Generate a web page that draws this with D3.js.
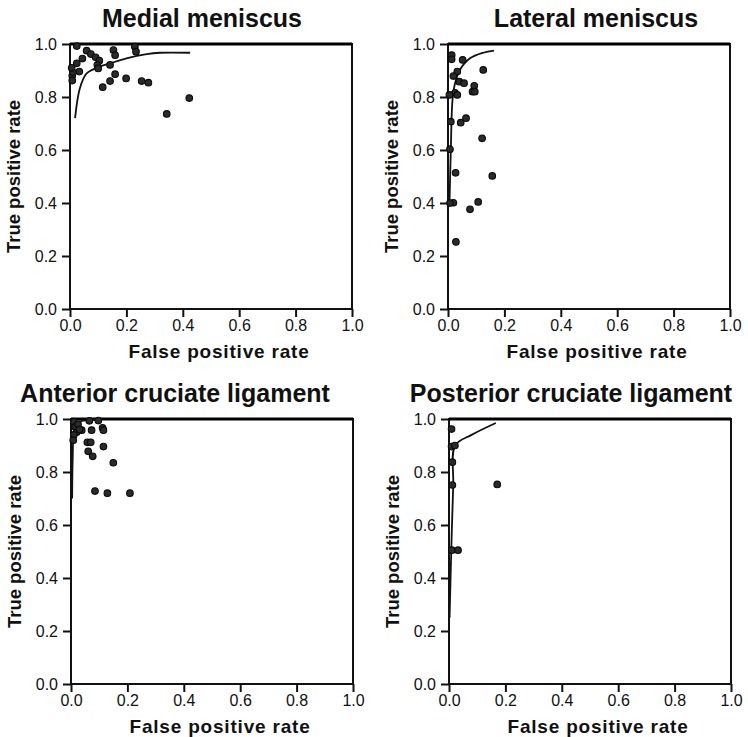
<!DOCTYPE html>
<html>
<head>
<meta charset="utf-8">
<script src="https://cdn.jsdelivr.net/npm/d3@7"></script>
<style>
  html, body { margin: 0; padding: 0; background: #fff; }
  svg { display: block; }
  text { font-family: "Liberation Sans", Arial, sans-serif; fill: #111; }
</style>
</head>
<body>
<svg id="chart" width="748" height="737"></svg>
<script>
// ---- data -------------------------------------------------------------
const panelTitles = ["Medial meniscus", "Lateral meniscus",
                     "Anterior cruciate ligament", "Posterior cruciate ligament"];
const xTickValues = [0, 0.2, 0.4, 0.6, 0.8, 1.0];
const yTickValues = [0, 0.2, 0.4, 0.6, 0.8, 1.0];
const xAxisLabel = "False positive rate";
const yAxisLabel = "True positive rate";

// study estimates: [false positive rate, true positive rate]
const medialStudies = [
  [0.024, 0.992], [0.059, 0.975], [0.074, 0.962], [0.091, 0.950], [0.104, 0.937],
  [0.097, 0.921], [0.100, 0.908], [0.044, 0.945], [0.024, 0.927], [0.033, 0.896],
  [0.008, 0.880], [0.008, 0.862], [0.010, 0.893], [0.006, 0.910], [0.154, 0.977],
  [0.160, 0.958], [0.230, 0.990], [0.234, 0.971], [0.142, 0.921], [0.160, 0.886],
  [0.142, 0.860], [0.116, 0.837], [0.199, 0.870], [0.254, 0.860], [0.278, 0.854],
  [0.343, 0.736], [0.423, 0.796]
];
const lateralStudies = [
  [0.013, 0.958], [0.013, 0.942], [0.052, 0.940], [0.125, 0.902], [0.033, 0.896],
  [0.019, 0.879], [0.040, 0.858], [0.057, 0.852], [0.093, 0.842], [0.087, 0.820],
  [0.095, 0.820], [0.025, 0.816], [0.033, 0.808], [0.005, 0.808], [0.064, 0.720],
  [0.045, 0.703], [0.010, 0.707], [0.121, 0.644], [0.007, 0.603], [0.027, 0.514],
  [0.157, 0.502], [0.019, 0.401], [0.007, 0.400], [0.107, 0.404], [0.078, 0.376],
  [0.028, 0.253]
];
const anteriorStudies = [
  [0.065, 0.993], [0.097, 0.994], [0.038, 0.958], [0.073, 0.958], [0.112, 0.967],
  [0.115, 0.958], [0.058, 0.912], [0.070, 0.912], [0.115, 0.896], [0.061, 0.878],
  [0.077, 0.859], [0.150, 0.835], [0.085, 0.728], [0.129, 0.720], [0.209, 0.720],
  [0.010, 0.990], [0.015, 0.970], [0.020, 0.950], [0.010, 0.940], [0.025, 0.980],
  [0.030, 0.960], [0.008, 0.920]
];
const posteriorStudies = [
  [0.009, 0.962], [0.009, 0.896], [0.021, 0.900], [0.012, 0.837], [0.012, 0.751],
  [0.171, 0.753], [0.010, 0.505], [0.032, 0.505]
];

// summary ROC curves: [false positive rate, true positive rate]
const medialCurve = [
  [0.018, 0.720], [0.035, 0.833], [0.059, 0.889], [0.104, 0.914], [0.142, 0.927],
  [0.200, 0.946], [0.272, 0.962], [0.319, 0.967], [0.426, 0.967]
];
const lateralCurve = [
  [0.005, 0.386], [0.010, 0.600], [0.016, 0.789], [0.025, 0.852], [0.042, 0.902],
  [0.078, 0.946], [0.125, 0.967], [0.163, 0.975]
];
const anteriorCurve = [
  [0.004, 0.700], [0.006, 0.850], [0.010, 0.950], [0.020, 0.985], [0.050, 0.995],
  [0.100, 0.998]
];
const posteriorCurve = [
  [0.002, 0.250], [0.008, 0.500], [0.015, 0.750], [0.022, 0.900], [0.080, 0.940],
  [0.166, 0.985]
];

const panelStudies = [medialStudies, lateralStudies, anteriorStudies, posteriorStudies];
const panelCurves = [medialCurve, lateralCurve, anteriorCurve, posteriorCurve];

// ---- layout -----------------------------------------------------------
const plotW = 282, plotH = 265;
const panelOrigins = [[70, 44], [448, 44], [71, 419], [449, 419]];
const titleCenters = [202, 596, 175, 571];

const svg = d3.select("#chart");

panelTitles.forEach((title, i) => {
  const [left, top] = panelOrigins[i];
  const x = d3.scaleLinear().domain([0, 1]).range([0, plotW]);
  const y = d3.scaleLinear().domain([0, 1]).range([plotH, 0]);
  const g = svg.append("g").attr("transform", `translate(${left},${top})`);

  // axes
  const xAxis = d3.axisBottom(x).tickValues(xTickValues)
    .tickFormat(d3.format(".1f")).tickSize(8).tickSizeOuter(0).tickPadding(3);
  const yAxis = d3.axisLeft(y).tickValues(yTickValues)
    .tickFormat(d3.format(".1f")).tickSize(8).tickSizeOuter(0).tickPadding(5);

  const gx = g.append("g").attr("transform", `translate(0,${plotH})`).call(xAxis);
  const gy = g.append("g").call(yAxis);
  [gx, gy].forEach(a => {
    a.select(".domain").remove();
    a.selectAll(".tick line").attr("stroke", "#111").attr("stroke-width", 2);
    a.selectAll(".tick text").attr("font-size", 16).attr("fill", "#222")
      .style("font-family", "'Liberation Sans', Arial, sans-serif");
  });

  // frame
  g.append("rect").attr("x", 0).attr("y", 0).attr("width", plotW).attr("height", plotH)
    .attr("fill", "none").attr("stroke", "#111").attr("stroke-width", 2);
  g.append("line").attr("x1", 0).attr("x2", plotW).attr("y1", y(1)).attr("y2", y(1))
    .attr("stroke", "#000").attr("stroke-width", 3);

  // summary curve
  const line = d3.line().x(d => x(d[0])).y(d => y(d[1])).curve(d3.curveCatmullRom.alpha(0.5));
  g.append("path").datum(panelCurves[i]).attr("d", line)
    .attr("fill", "none").attr("stroke", "#111").attr("stroke-width", 1.8);

  // study points
  g.selectAll("circle.study").data(panelStudies[i]).join("circle")
    .attr("class", "study")
    .attr("cx", d => x(d[0])).attr("cy", d => y(d[1])).attr("r", 3.3)
    .attr("fill", "#2a2a2a").attr("stroke", "#0a0a0a").attr("stroke-width", 1.1);

  // labels
  svg.append("text").attr("x", titleCenters[i]).attr("y", top - 17)
    .attr("text-anchor", "middle").attr("font-size", 25).attr("font-weight", "bold")
    .text(title);
  svg.append("text").attr("x", left + plotW / 2 + 8).attr("y", top + plotH + 49)
    .attr("text-anchor", "middle").attr("font-size", 19).attr("font-weight", "bold")
    .attr("letter-spacing", 0.8)
    .text(xAxisLabel);
  svg.append("text")
    .attr("transform", `translate(${left - 50},${top + plotH / 2}) rotate(-90)`)
    .attr("text-anchor", "middle").attr("font-size", 18.5).attr("font-weight", "bold")
    .text(yAxisLabel);
});
</script>
</body>
</html>
